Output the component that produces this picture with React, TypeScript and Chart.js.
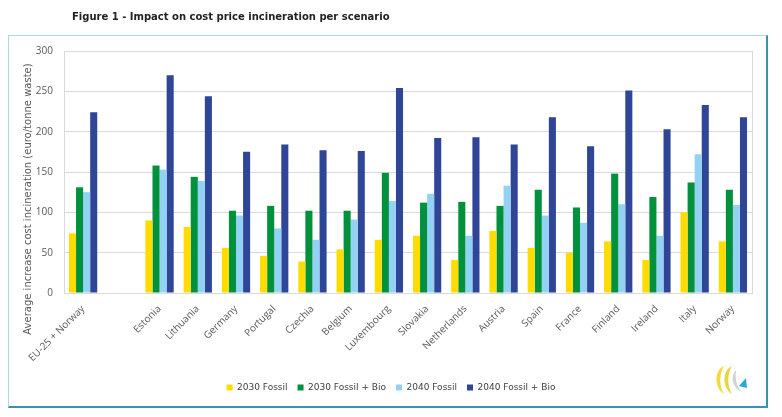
import React, { useEffect, useRef } from "react";
import { Chart, registerables } from "chart.js";
Chart.register(...registerables);

const categories = [
  "EU-25 + Norway", "", "Estonia", "Lithuania", "Germany", "Portugal", "Czechia",
  "Belgium", "Luxembourg", "Slovakia", "Netherlands", "Austria", "Spain",
  "France", "Finland", "Ireland", "Italy", "Norway",
];
const fossil2030 = [74, null, 90, 82, 56, 46, 39, 54, 66, 71, 41, 77, 56, 50, 64, 41, 100, 64];
const fossilBio2030 = [131, null, 158, 144, 102, 108, 102, 102, 149, 112, 113, 108, 128, 106, 148, 119, 137, 128];
const fossil2040 = [125, null, 153, 139, 96, 80, 66, 91, 114, 123, 71, 133, 96, 87, 110, 71, 172, 109];
const fossilBio2040 = [224, null, 270, 244, 175, 184, 177, 176, 254, 192, 193, 184, 218, 182, 251, 203, 233, 218];
const seriesNames = ["2030 Fossil", "2030 Fossil + Bio", "2040 Fossil", "2040 Fossil + Bio"];
const seriesColors = ["#FFDC00", "#00913C", "#93D2F4", "#2F4597"];
const yTitle = "Average increase cost incineration (euro/tonne waste)";
const figureTitle = "Figure 1 - Impact on cost price incineration per scenario";

const plotFrame = {
  id: "plotFrame",
  afterDraw(chart: any) {
    const { ctx, chartArea } = chart;
    ctx.save();
    ctx.strokeStyle = "#d9d9d9";
    ctx.lineWidth = 1;
    ctx.strokeRect(chartArea.left + 0.5, chartArea.top + 0.5, chartArea.right - chartArea.left, chartArea.bottom - chartArea.top);
    ctx.restore();
    ctx.save();
    ctx.fillStyle = "#595959";
    ctx.font = "10px 'DejaVu Sans'";
    ctx.textAlign = "center";
    ctx.textBaseline = "middle";
    ctx.translate(28, 199);
    ctx.rotate(-Math.PI / 2);
    ctx.fillText(yTitle, 0, 0);
    ctx.restore();
  },
};

export default function App() {
  const ref = useRef<HTMLCanvasElement>(null);
  useEffect(() => {
    document.body.style.margin = "0";
    const data = [fossil2030, fossilBio2030, fossil2040, fossilBio2040];
    const chart = new Chart(ref.current!, {
      type: "bar",
      data: {
        labels: categories,
        datasets: data.map((d, i) => ({
          label: seriesNames[i],
          data: d,
          backgroundColor: seriesColors[i],
          borderWidth: 0,
          categoryPercentage: 0.74,
          barPercentage: 1,
          yAxisID: "y",
        })),
      },
      options: {
        animation: false,
        responsive: false,
        layout: { padding: { left: 0, right: 0, top: 51, bottom: 15 } },
        plugins: {
          legend: {
            position: "bottom",
            labels: {
              boxWidth: 6,
              boxHeight: 6,
              padding: 10,
              color: "#404040",
              font: { family: "'DejaVu Sans'", size: 9 },
            },
          },
          tooltip: { enabled: false },
        },
        scales: {
          x: {
            grid: { display: false },
            border: { color: "#d9d9d9" },
            ticks: {
              color: "#595959",
              font: { family: "'Open Sans'", size: 10 },
              minRotation: 45,
              maxRotation: 45,
              autoSkip: false,
              padding: 2,
            },
            afterFit: (s: any) => { s.height = 80; },
          },
          y: {
            min: 0,
            max: 300,
            ticks: {
              stepSize: 50,
              color: "#595959",
              font: { family: "'Open Sans'", size: 10 },
              padding: 11,
            },
            grid: { color: "#d9d9d9", drawTicks: false },
            border: { display: false },
            afterFit: (s: any) => { s.width = 64; },
          },
          yRight: {
            position: "right",
            display: true,
            grid: { display: false },
            border: { display: false },
            ticks: { display: false },
            afterFit: (s: any) => { s.width = 30; },
          },
        },
      },
      plugins: [plotFrame],
    });
    return () => chart.destroy();
  }, []);

  return (
    <div style={{ position: "relative", width: 782, height: 417, background: "#fff", overflow: "hidden" }}>
      <div style={{ position: "absolute", left: 8, top: 35, width: 757, height: 370, borderLeft: "1px solid #a8dce6", borderTop: "1px solid #a8dce6", borderRight: "2px solid #3f93a6", borderBottom: "2px solid #3f93a6" }} />
      <canvas ref={ref} width={782} height={417} style={{ position: "absolute", left: 0, top: 0 }} />
      <div style={{ position: "absolute", left: 72, top: 11, fontFamily: "'DejaVu Sans'", fontWeight: "bold", fontSize: 10, color: "#222", whiteSpace: "nowrap" }}>{figureTitle}</div>
      <svg width={40} height={32} viewBox="0 0 40 32" style={{ position: "absolute", left: 712, top: 364 }}>
        <path d="M12 2 C2 6 2 24 12 30 C7 22 7 10 12 2 Z" fill="#f2dc3c" />
        <path d="M20 2 C10 6 10 24 20 30 C15 22 15 10 20 2 Z" fill="#e8d640" />
        <path d="M24 6 C18 12 20 24 30 28 C24 22 23 14 24 6 Z" fill="#cfd3d6" />
        <path d="M27 22 L34 14 L35 24 Z" fill="#2aa6d8" />
      </svg>
    </div>
  );
}
